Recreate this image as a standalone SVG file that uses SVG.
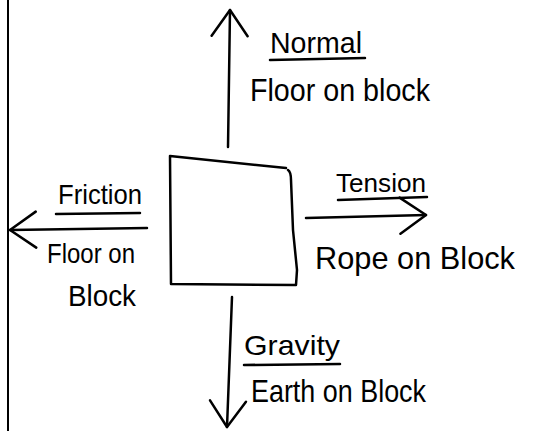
<svg xmlns="http://www.w3.org/2000/svg" width="548" height="431" viewBox="0 0 548 431">
<style>
.ln{fill:none;stroke:#000;stroke-width:2.5;stroke-linecap:round;stroke-linejoin:round}
.t{font-family:"Liberation Sans","DejaVu Sans",sans-serif;fill:#000}
</style>
<defs>
<marker id="ah" viewBox="0 0 30 40" refX="28" refY="20" markerWidth="30" markerHeight="40" markerUnits="userSpaceOnUse" orient="auto">
<polyline points="2,2 28,20 2,38" fill="none" stroke="#000" stroke-width="2.5" stroke-linecap="round" stroke-linejoin="round"/>
</marker>
</defs>
<rect width="548" height="431" fill="#fff"/>
<line x1="8" y1="0" x2="8" y2="431" stroke="#000" stroke-width="2"/>
<g id="block">
<path class="ln" d="M170,156 L286,168 M288,170 Q291,172 291,180 L293,230 L297,270 L296,285 L171,284 L170,156"/>
</g>
<g id="connectors">
<line class="ln" x1="228" y1="147" x2="230" y2="10" marker-end="url(#ah)"/>
<line class="ln" x1="147" y1="228" x2="10" y2="230" marker-end="url(#ah)"/>
<line class="ln" x1="306" y1="218" x2="426" y2="215" marker-end="url(#ah)"/>
<line class="ln" x1="232" y1="297" x2="227" y2="427" marker-end="url(#ah)"/>
</g>
<g id="normal">
<text class="t" x="270" y="53" font-size="30" textLength="92" lengthAdjust="spacingAndGlyphs">Normal</text>
<line class="ln" x1="270" y1="60" x2="365" y2="58"/>
<text class="t" x="250" y="101" font-size="32" textLength="180" lengthAdjust="spacingAndGlyphs">Floor on block</text>
</g>
<g id="friction">
<text class="t" x="58" y="204" font-size="28" textLength="84" lengthAdjust="spacingAndGlyphs">Friction</text>
<line class="ln" x1="56" y1="214" x2="140" y2="213"/>
<text class="t" x="47" y="263" font-size="28" textLength="88" lengthAdjust="spacingAndGlyphs">Floor on</text>
<text class="t" x="68" y="306" font-size="30" textLength="68" lengthAdjust="spacingAndGlyphs">Block</text>
</g>
<g id="tension">
<text class="t" x="336" y="192" font-size="26" textLength="90" lengthAdjust="spacingAndGlyphs">Tension</text>
<line class="ln" x1="338" y1="200" x2="427" y2="197"/>
<text class="t" x="315" y="269" font-size="32" textLength="200" lengthAdjust="spacingAndGlyphs">Rope on Block</text>
</g>
<g id="gravity">
<text class="t" x="244" y="355" font-size="28" textLength="96" lengthAdjust="spacingAndGlyphs">Gravity</text>
<line class="ln" x1="244" y1="365" x2="340" y2="364"/>
<text class="t" x="251" y="402" font-size="32" textLength="175" lengthAdjust="spacingAndGlyphs">Earth on Block</text>
</g>
</svg>
